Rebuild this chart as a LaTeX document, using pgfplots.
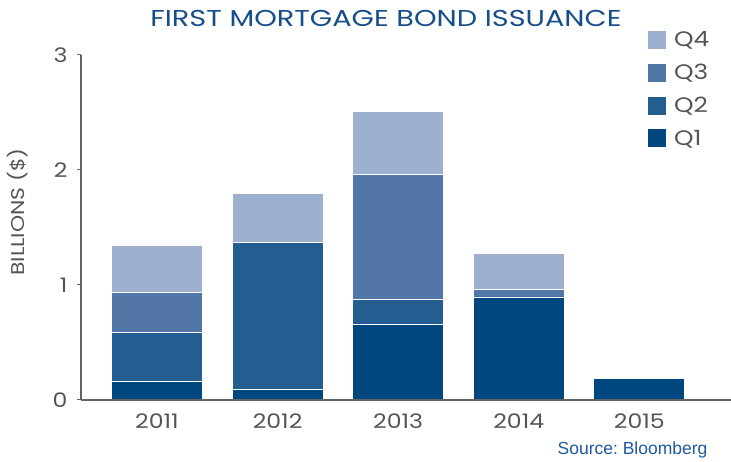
\documentclass[border=0pt]{standalone}
\usepackage{pgfplots}
\pgfplotsset{compat=1.18}
\usepackage{fontspec}
\setmainfont{Poppins}
\newfontfamily\widefont[FakeStretch=1.18]{Poppins}
\newfontfamily\titlefont[FakeStretch=1.25]{Poppins}
\newfontfamily\srcfont{Liberation Sans}
\definecolor{qone}{RGB}{0,70,127}
\definecolor{qtwo}{RGB}{36,94,145}
\definecolor{qthree}{RGB}{82,119,166}
\definecolor{qfour}{RGB}{157,176,207}
\definecolor{titleblue}{RGB}{22,78,138}
\definecolor{srcblue}{RGB}{30,90,155}
\definecolor{txtgray}{RGB}{85,85,85}
\definecolor{axgray}{RGB}{100,100,100}
\frenchspacing
\begin{document}
\begin{tikzpicture}
\path[use as bounding box] (0pt,0pt) rectangle (731pt,462pt);
\begin{axis}[
  at={(81pt,62pt)}, anchor=south west,
  scale only axis, width=650pt, height=345pt,
  xmin=-0.63, xmax=4.76, ymin=0, ymax=3,
  ybar stacked, bar width=91pt,
  axis x line=bottom, axis y line=left,
  axis line style={-, axgray, line width=1.4pt},
  xtick={0,1,2,3,4}, xticklabels={2011,2012,2013,2014,2015},
  ytick={0,1,2,3},
  xtick style={draw=none},
  ytick style={axgray, line width=1pt},
  tick align=outside, major tick length=4pt,
  ticklabel style={font=\widefont\fontsize{20}{20}\selectfont, text=txtgray},
  /pgf/number format/assume math mode=true,
  yticklabel style={xshift=-6pt},
  xticklabel style={yshift=-6pt},
  ylabel={BILLIONS (\$)},
  ylabel style={at={(axis description cs:-0.097,0.545)}, anchor=center, font=\widefont\fontsize{18.5}{18.5}\selectfont, text=txtgray},
  legend style={at={(axis description cs:0.8723,1.07)}, anchor=north west, draw=none, fill=none,
    inner sep=0pt, row sep=15pt, column sep=8pt,
    nodes={inner sep=0pt, anchor=west, text=txtgray, font=\widefont\fontsize{21}{21}\selectfont}},
  reverse legend,
  clip=false,
]
\addplot[fill=qone, draw=white, line width=0.8pt, legend image code/.code={\fill[qone] (0pt,-8.5pt) rectangle (17pt,8.5pt);}] coordinates {(0,0.165) (1,0.093) (2,0.653) (3,0.896) (4,0.19)};
\addplot[fill=qtwo, draw=white, line width=0.8pt, legend image code/.code={\fill[qtwo] (0pt,-8.5pt) rectangle (17pt,8.5pt);}] coordinates {(0,0.425) (1,1.275) (2,0.223) (3,0) (4,0)};
\addplot[fill=qthree, draw=white, line width=0.8pt, legend image code/.code={\fill[qthree] (0pt,-8.5pt) rectangle (17pt,8.5pt);}] coordinates {(0,0.347) (1,0) (2,1.084) (3,0.064) (4,0)};
\addplot[fill=qfour, draw=white, line width=0.8pt, legend image code/.code={\fill[qfour] (0pt,-8.5pt) rectangle (17pt,8.5pt);}] coordinates {(0,0.41) (1,0.427) (2,0.547) (3,0.318) (4,0)};
\legend{Q1,Q2,Q3,Q4}
\end{axis}
\draw[axgray, line width=1.4pt] (81pt,62pt) -- (731pt,62pt);
\node[font=\titlefont\fontsize{23}{23}\selectfont, text=titleblue] at (386pt,444pt) {FIRST MORTGAGE BOND ISSUANCE};
\node[font=\srcfont\fontsize{17.5}{17.5}\selectfont, text=srcblue, anchor=base east] at (711pt,7pt) {Source: Bloomberg};
\end{tikzpicture}
\end{document}
